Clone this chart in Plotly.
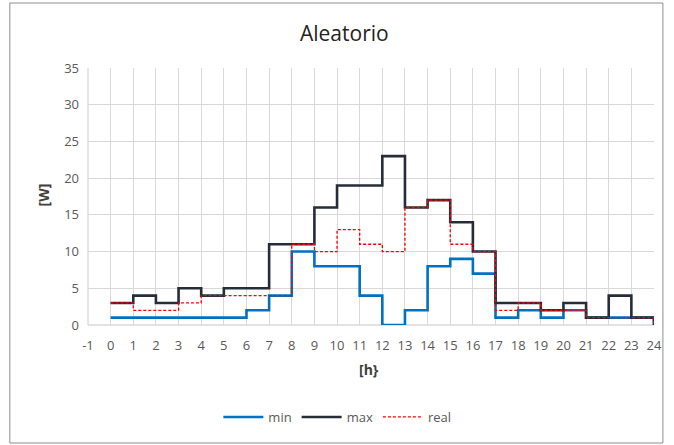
import plotly.graph_objects as go

# Hourly power profile (step values, each holds from hour h to h+1)
hours = list(range(0, 25))
p_min = [1, 1, 1, 1, 1, 1, 2, 4, 10, 8, 8, 4, 0, 2, 8, 9, 7, 1, 2, 1, 2, 1, 1, 1, 0]
p_max = [3, 4, 3, 5, 4, 5, 5, 11, 11, 16, 19, 19, 23, 16, 17, 14, 10, 3, 3, 2, 3, 1, 4, 1, 0]
p_real = [3, 2, 2, 3, 4, 4, 4, 4, 11, 10, 13, 11, 10, 16, 17, 11, 10, 2, 3, 2, 2, 1, 1, 1, 0]

x_ticks = list(range(-1, 25))
y_ticks = list(range(0, 36, 5))

FONT = "Open Sans"
GRID = "#d9d9d9"
TXT = "#595959"

fig = go.Figure()
fig.add_trace(go.Scatter(x=hours, y=p_min, name="min", mode="lines",
                         line=dict(color="#0070C0", width=2.6, shape="hv")))
fig.add_trace(go.Scatter(x=hours, y=p_max, name="max", mode="lines",
                         line=dict(color="#262d38", width=2.6, shape="hv")))
fig.add_trace(go.Scatter(x=hours, y=p_real, name="real", mode="lines",
                         line=dict(color="#FF0000", width=1.3, shape="hv", dash="3px,2px")))

L, R, T, B = 88, 14, 68, 120
W, H = 674, 445
pw, ph = W - L - R, H - T - B


def px(x):
    return (x - L) / pw


def py(y):
    return (H - B - y) / ph


fig.update_layout(
    width=W, height=H,
    margin=dict(l=L, r=R, t=T, b=B),
    paper_bgcolor="white", plot_bgcolor="white",
    font=dict(family=FONT, size=12, color=TXT),
    showlegend=True,
    legend=dict(orientation="h", x=px(340), y=py(417), xanchor="center", yanchor="middle",
                font=dict(family=FONT, size=13, color=TXT), itemwidth=40,
                bgcolor="rgba(0,0,0,0)"),
    xaxis=dict(range=[-1, 24], tickvals=x_ticks, ticktext=[str(v) for v in x_ticks],
               showgrid=True, gridcolor=GRID, gridwidth=1, zeroline=False,
               showline=False, ticks="", ticklabelstandoff=11,
               tickfont=dict(size=13, color=TXT), fixedrange=True),
    yaxis=dict(range=[0, 35], tickvals=y_ticks, ticktext=[str(v) for v in y_ticks],
               showgrid=True, gridcolor=GRID, gridwidth=1, zeroline=False,
               showline=False, ticks="", ticklabelstandoff=8,
               tickfont=dict(size=13, color=TXT), fixedrange=True),
    annotations=[
        dict(text="Aleatorio", x=px(347), y=py(33), xref="paper", yref="paper",
             showarrow=False, font=dict(family=FONT, size=21, color="#222222"),
             xanchor="center", yanchor="middle"),
        dict(text="<b>[W]</b>", x=px(43), y=py(195), xref="paper", yref="paper",
             showarrow=False, textangle=-90, font=dict(family=FONT, size=14, color="#404040"),
             xanchor="center", yanchor="middle"),
        dict(text="<b>[h}</b>", x=px(372), y=py(369), xref="paper", yref="paper",
             showarrow=False, font=dict(family=FONT, size=14, color="#404040"),
             xanchor="center", yanchor="middle"),
    ],
    shapes=[
        dict(type="rect", xref="paper", yref="paper",
             x0=px(9), x1=px(669), y0=py(443), y1=py(3),
             line=dict(color="#8c8c8c", width=1), fillcolor="rgba(0,0,0,0)", layer="below"),
        dict(type="line", xref="paper", yref="paper", x0=0, x1=1, y0=0, y1=0,
             line=dict(color=GRID, width=1.3), layer="below"),
        dict(type="line", xref="paper", yref="paper", x0=0, x1=0, y0=0, y1=1,
             line=dict(color=GRID, width=1.3), layer="below"),
    ],
)

fig.write_html("out.html")
